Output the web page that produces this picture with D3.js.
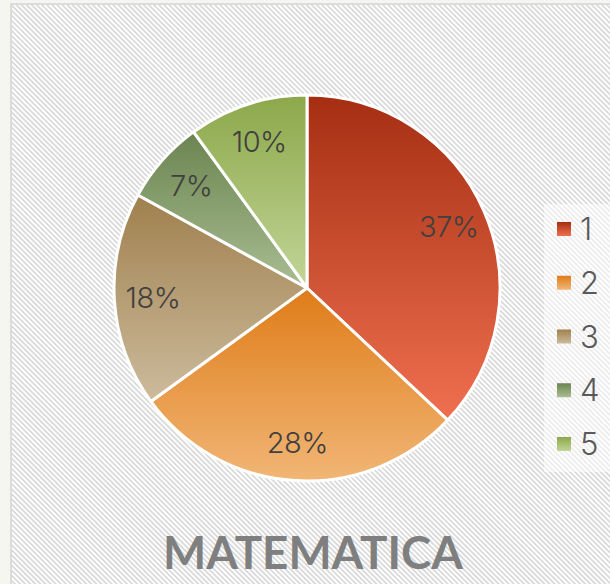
<!DOCTYPE html>
<html><head><meta charset="utf-8">
<script src="https://cdn.jsdelivr.net/npm/d3@7"></script>
<style>html,body{margin:0;padding:0;background:#f6f6f0;}svg{display:block;}</style>
</head><body>
<svg id="c" width="610" height="584"></svg>
<script>
const categories = ["1","2","3","4","5"];
const values = [37, 28, 18, 7, 10];
const labels = ["37%","28%","18%","7%","10%"];
const topColors = ["#a52e12","#df7c18","#a0804e","#6b8450","#8ca84a"];
const bottomColors = ["#ef7050","#f1b676","#ccbb9c","#a9bd92","#c2d598"];
const title = "MATEMATICA";

const svg = d3.select("#c");
const defs = svg.append("defs");
const pat = defs.append("pattern").attr("id","hatch").attr("patternUnits","userSpaceOnUse")
  .attr("width",3.6).attr("height",3.6).attr("patternTransform","rotate(-45)");
pat.append("rect").attr("width",3.6).attr("height",3.6).attr("fill","#ffffff");
pat.append("rect").attr("width",1.8).attr("height",3.6).attr("fill","#dadada");

categories.forEach((c,i)=>{
  const g = defs.append("linearGradient").attr("id","g"+i).attr("x1",0).attr("y1",0).attr("x2",0).attr("y2",1);
  g.append("stop").attr("offset","0%").attr("stop-color",topColors[i]);
  g.append("stop").attr("offset","100%").attr("stop-color",bottomColors[i]);
});

// chart area
svg.append("rect").attr("x",11).attr("y",4).attr("width",620).attr("height",600)
  .attr("fill","url(#hatch)").attr("stroke","#dcdcdc").attr("stroke-width",2);

const cx = 307, cy = 288, R = 193;
const pie = d3.pie().sort(null).value(d=>d)(values);
const arc = d3.arc().innerRadius(0).outerRadius(R);
const labelArc = d3.arc().innerRadius(R*0.8).outerRadius(R*0.8);
const g = svg.append("g").attr("transform",`translate(${cx},${cy})`);
g.selectAll("path.s").data(pie).join("path").attr("class","s")
  .attr("d",arc).attr("fill",(d,i)=>`url(#g${i})`)
  .attr("stroke","#ffffff").attr("stroke-width",3).attr("stroke-linejoin","round");
const lf = "Inter, Lato, 'Open Sans', sans-serif";
g.selectAll("text.l").data(pie).join("text").attr("class","l")
  .attr("transform",d=>`translate(${labelArc.centroid(d)})`)
  .attr("text-anchor","middle").attr("dy","0.36em")
  .attr("font-family",lf).attr("font-weight",300).attr("font-size",29)
  .attr("letter-spacing",-0.5)
  .attr("fill","#404040").text((d,i)=>labels[i]);

// legend
svg.append("rect").attr("x",544).attr("y",204).attr("width",70).attr("height",268)
  .attr("fill","#ffffff").attr("opacity",0.5);
const ly = d3.scalePoint().domain(categories).range([229,444]);
const lg = svg.append("g");
lg.selectAll("rect").data(categories).join("rect")
  .attr("x",557).attr("y",d=>ly(d)-7).attr("width",14).attr("height",14)
  .attr("fill",(d,i)=>`url(#g${i})`);
lg.selectAll("text").data(categories).join("text")
  .attr("x",580).attr("y",d=>ly(d)).attr("dy","0.36em")
  .attr("font-family",lf).attr("font-weight",300).attr("font-size",31)
  .attr("fill","#595959").text(d=>d);

svg.append("text").attr("x",313).attr("y",569).attr("text-anchor","middle")
  .attr("font-family","Lato, 'Open Sans', sans-serif").attr("font-weight","bold")
  .attr("font-size",46).attr("fill","#7f7f7f")
  .attr("textLength",300).attr("lengthAdjust","spacingAndGlyphs").text(title);
</script>
</body></html>
